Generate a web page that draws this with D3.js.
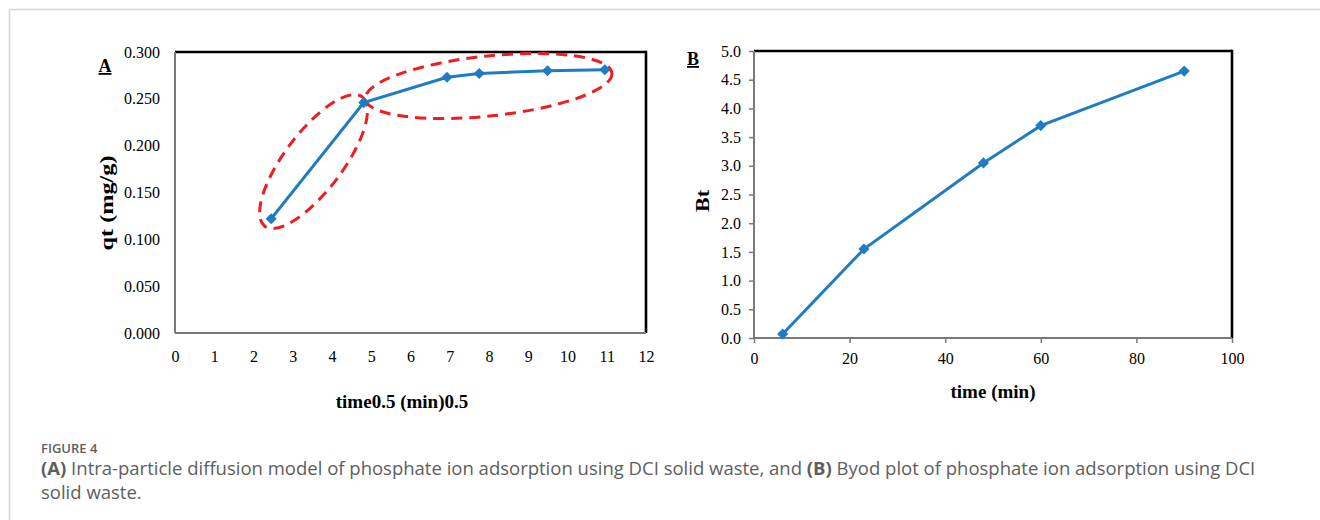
<!DOCTYPE html>
<html><head><meta charset="utf-8">
<script src="https://cdn.jsdelivr.net/npm/d3@7"></script>
<style>body{margin:0;background:#fff;}</style>
</head><body>
<svg id="chart" width="1320" height="520"></svg>
<script>
// ---- data ----
const timeSqrtA = [2.45, 4.81, 6.93, 7.75, 9.49, 10.95];
const qtA = [0.122, 0.246, 0.273, 0.277, 0.280, 0.281];
const timeB = [6, 23, 48, 60, 90];
const btB = [0.07, 1.55, 3.05, 3.70, 4.65];
const xTicksA = [0,1,2,3,4,5,6,7,8,9,10,11,12];
const yTicksA = [0, 0.05, 0.10, 0.15, 0.20, 0.25, 0.30];
const xTicksB = [0, 20, 40, 60, 80, 100];
const yTicksB = [0, 0.5, 1.0, 1.5, 2.0, 2.5, 3.0, 3.5, 4.0, 4.5, 5.0];
// annotation ellipse centres (data units of panel A)
const ellipseCx = [3.53, 7.99];
const ellipseCy = [0.183, 0.2637];

// ---- styles ----
const BLUE = "#1f7cc3", RED = "#ee1d24";
const serif = "'Liberation Serif','Times New Roman',serif";
const ellipseShape = [{rx: 81, ry: 29, rot: -53}, {rx: 124, ry: 30, rot: -6}];

const svg = d3.select("#chart");

// outer frame lines
svg.append("line").attr("x1", 9.5).attr("x2", 1320).attr("y1", 9.5).attr("y2", 9.5)
  .attr("stroke", "#d6d6d6").attr("stroke-width", 1.5);
svg.append("line").attr("x1", 9.5).attr("x2", 9.5).attr("y1", 9.5).attr("y2", 520)
  .attr("stroke", "#d6d6d6").attr("stroke-width", 1.5);

function frame(g, x0, x1, y0, y1) {
  g.append("line").attr("x1", x0).attr("x2", x1).attr("y1", y1).attr("y2", y1)
    .attr("stroke", "#000").attr("stroke-width", 2.6);
  g.append("line").attr("x1", x1).attr("x2", x1).attr("y1", y1 - 1.3).attr("y2", y0)
    .attr("stroke", "#000").attr("stroke-width", 2.6);
  g.append("line").attr("x1", x0).attr("x2", x0).attr("y1", y0).attr("y2", y1)
    .attr("stroke", "#7a7a7a").attr("stroke-width", 2);
  g.append("line").attr("x1", x0).attr("x2", x1).attr("y1", y0).attr("y2", y0)
    .attr("stroke", "#7a7a7a").attr("stroke-width", 2);
}

function styleTicks(g, size) {
  g.select(".domain").remove();
  g.selectAll(".tick text").attr("font-family", serif).attr("font-size", size).attr("fill", "#000");
  g.selectAll(".tick line").attr("stroke", "#7a7a7a").attr("stroke-width", 1.5);
}

const diamond = d3.symbol().type(d3.symbolSquare).size(62);

// ================= Panel A =================
const xA = d3.scaleLinear().domain([0, 12]).range([175, 646]);
const yA = d3.scaleLinear().domain([0, 0.3]).range([333, 52]);
const gA = svg.append("g");

gA.append("g").attr("transform", `translate(0,${yA(0)})`)
  .call(d3.axisBottom(xA).tickValues(xTicksA).tickSize(0).tickPadding(18).tickFormat(d3.format("d")))
  .call(g => styleTicks(g, 16));
gA.append("g").attr("transform", `translate(${xA(0)},0)`)
  .call(d3.axisLeft(yA).tickValues(yTicksA).tickSize(0).tickPadding(15).tickFormat(d3.format(".3f")))
  .call(g => styleTicks(g, 16));

frame(gA, xA(0), xA(12), yA(0), yA(0.3));

// ellipses
ellipseCx.forEach((cx, i) => {
  const s = ellipseShape[i];
  gA.append("ellipse")
    .attr("transform", `translate(${xA(cx)},${yA(ellipseCy[i])}) rotate(${s.rot})`)
    .attr("rx", s.rx).attr("ry", s.ry)
    .attr("fill", "none").attr("stroke", RED).attr("stroke-width", 3)
    .attr("stroke-dasharray", "11,7");
});

const ptsA = timeSqrtA.map((t, i) => [t, qtA[i]]);
gA.append("path").datum(ptsA)
  .attr("d", d3.line().x(d => xA(d[0])).y(d => yA(d[1])))
  .attr("fill", "none").attr("stroke", BLUE).attr("stroke-width", 3);
gA.selectAll(".mA").data(ptsA).join("path")
  .attr("d", diamond)
  .attr("transform", d => `translate(${xA(d[0])},${yA(d[1])}) rotate(45)`)
  .attr("fill", BLUE);

gA.append("text").attr("x", 402).attr("y", 408).attr("text-anchor", "middle")
  .attr("font-family", serif).attr("font-weight", "bold").attr("font-size", 19)
  .text("time0.5 (min)0.5");
gA.append("text").attr("transform", "translate(113,203) rotate(-90)").attr("text-anchor", "middle")
  .attr("font-family", serif).attr("font-weight", "bold").attr("font-size", 19)
  .attr("textLength", 95).attr("lengthAdjust", "spacingAndGlyphs")
  .text("qt (mg/g)");
gA.append("text").attr("x", 105).attr("y", 72).attr("text-anchor", "middle")
  .attr("font-family", serif).attr("font-weight", "bold").attr("font-size", 18)
  .attr("text-decoration", "underline").text("A");

// ================= Panel B =================
const xB = d3.scaleLinear().domain([0, 100]).range([754, 1232]);
const yB = d3.scaleLinear().domain([0, 5]).range([338, 51]);
const gB = svg.append("g");

gB.append("g").attr("transform", `translate(0,${yB(0)})`)
  .call(d3.axisBottom(xB).tickValues(xTicksB).tickSizeInner(5).tickSizeOuter(0).tickPadding(10).tickFormat(d3.format("d")))
  .call(g => styleTicks(g, 16));
gB.append("g").attr("transform", `translate(${xB(0)},0)`)
  .call(d3.axisLeft(yB).tickValues(yTicksB).tickSizeInner(5).tickSizeOuter(0).tickPadding(8).tickFormat(d3.format(".1f")))
  .call(g => styleTicks(g, 16));

frame(gB, xB(0), xB(100), yB(0), yB(5));

const ptsB = timeB.map((t, i) => [t, btB[i]]);
gB.append("path").datum(ptsB)
  .attr("d", d3.line().x(d => xB(d[0])).y(d => yB(d[1])))
  .attr("fill", "none").attr("stroke", BLUE).attr("stroke-width", 3);
gB.selectAll(".mB").data(ptsB).join("path")
  .attr("d", diamond)
  .attr("transform", d => `translate(${xB(d[0])},${yB(d[1])}) rotate(45)`)
  .attr("fill", BLUE);

gB.append("text").attr("x", 993).attr("y", 398).attr("text-anchor", "middle")
  .attr("font-family", serif).attr("font-weight", "bold").attr("font-size", 19)
  .text("time (min)");
gB.append("text").attr("transform", "translate(709,201) rotate(-90)").attr("text-anchor", "middle")
  .attr("font-family", serif).attr("font-weight", "bold").attr("font-size", 19)
  .attr("textLength", 22).attr("lengthAdjust", "spacingAndGlyphs")
  .text("Bt");
gB.append("text").attr("x", 693).attr("y", 65).attr("text-anchor", "middle")
  .attr("font-family", serif).attr("font-weight", "bold").attr("font-size", 18)
  .attr("text-decoration", "underline").text("B");

// ================= Caption =================
const cap = svg.append("g").attr("font-family", "'Open Sans','Noto Sans',sans-serif").attr("fill", "#5e5e5e");
cap.append("text").attr("x", 41).attr("y", 453).attr("font-size", 13).attr("font-weight", 600)
  .text("FIGURE 4");
const l1 = cap.append("text").attr("x", 41).attr("y", 475).attr("font-size", 18.5);
l1.append("tspan").attr("font-weight", "bold").text("(A)");
l1.append("tspan").text(" Intra-particle diffusion model of phosphate ion adsorption using DCI solid waste, and ");
l1.append("tspan").attr("font-weight", "bold").text("(B)");
l1.append("tspan").text(" Byod plot of phosphate ion adsorption using DCI");
cap.append("text").attr("x", 41).attr("y", 499).attr("font-size", 18.5).text("solid waste.");
</script>
</body></html>
